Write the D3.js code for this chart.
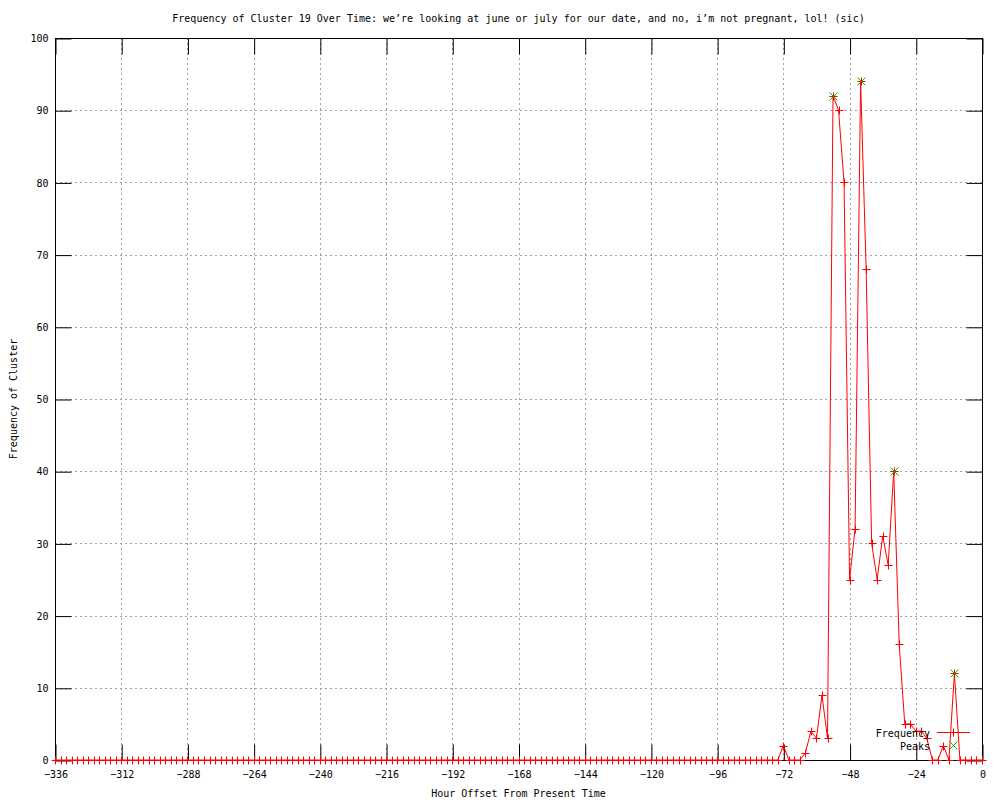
<!DOCTYPE html>
<html>
<head>
<meta charset="utf-8">
<script src="https://cdn.jsdelivr.net/npm/d3@7"></script>
<style>
  html, body { margin: 0; padding: 0; background: #fff; }
  svg { display: block; }
  text { font-family: "DejaVu Sans Mono", "Liberation Mono", monospace; font-size: 10px; fill: #000; }
</style>
</head>
<body>
<script>
// ---- data (hours in steps of 2, from -336 to 0) ----
const hours = d3.range(-336, 1, 2);
const frequency = [
  0,0,0,0,0,0,0,0,0,0,0,0,   // -336 .. -314
  0,0,0,0,0,0,0,0,0,0,0,0,   // -312 .. -290
  0,0,0,0,0,0,0,0,0,0,0,0,   // -288 .. -266
  0,0,0,0,0,0,0,0,0,0,0,0,   // -264 .. -242
  0,0,0,0,0,0,0,0,0,0,0,0,   // -240 .. -218
  0,0,0,0,0,0,0,0,0,0,0,0,   // -216 .. -194
  0,0,0,0,0,0,0,0,0,0,0,0,   // -192 .. -170
  0,0,0,0,0,0,0,0,0,0,0,0,   // -168 .. -146
  0,0,0,0,0,0,0,0,0,0,0,0,   // -144 .. -122
  0,0,0,0,0,0,0,0,0,0,0,0,   // -120 .. -98
  0,0,0,0,0,0,0,0,0,0,0,0,   // -96 .. -74
  2,0,0,0,1,4,3,9,3,92,90,80, // -72 .. -50
  25,32,94,68,30,25,31,27,40,16,5,5, // -48 .. -26
  4,4,3,0,0,2,0,12,0,0,0,0,  // -24 .. -2
  0                          // 0
];
const peakHours = [-54, -44, -32, -10];
const peakValues = [92, 94, 40, 12];
const xTicks = [-336,-312,-288,-264,-240,-216,-192,-168,-144,-120,-96,-72,-48,-24,0];
const yTicks = [0,10,20,30,40,50,60,70,80,90,100];
const title = "Frequency of Cluster 19 Over Time: we\u2019re looking at june or july for our date, and no, i\u2019m not pregnant, lol! (sic)";
const xLabel = "Hour Offset From Present Time";
const yLabel = "Frequency of Cluster";
const seriesNames = ["Frequency", "Peaks"];

// ---- layout ----
const W = 1000, H = 800;
const L = 55, R = 982, T = 38, B = 760;
const red = "#ff0000", green = "#00c000", grid = "#a0a0a0";

const svg = d3.select("body").append("svg").attr("width", W).attr("height", H);

const x = d3.scaleLinear().domain([-336, 0]).range([L, R]);
const y = d3.scaleLinear().domain([0, 100]).range([B, T]);
const px = v => Math.round(x(v)) + 0.5;
const py = v => Math.round(y(v)) + 0.5;

// grid
const g = svg.append("g").attr("stroke", grid).attr("stroke-dasharray", "2,3").attr("stroke-width", 1);
xTicks.slice(1, -1).forEach(t => g.append("line").attr("x1", px(t)).attr("x2", px(t)).attr("y1", T).attr("y2", B));
yTicks.slice(1, -1).forEach(t => g.append("line").attr("y1", py(t)).attr("y2", py(t)).attr("x1", L).attr("x2", R));

// axes using d3 axis generators (ticks inward, mirrored)
const tickLen = 16;
function styleAxis(sel) {
  sel.select(".domain").remove();
  sel.selectAll(".tick line").attr("stroke", "#000");
  sel.selectAll(".tick text").attr("fill", "#000").style("font-family", '"DejaVu Sans Mono", monospace').style("font-size", "10px");
}
const xAxisB = d3.axisBottom(x).tickValues(xTicks).tickSizeInner(-tickLen).tickSizeOuter(0).tickPadding(10).tickFormat(d3.format("d"));
svg.append("g").attr("transform", `translate(0.5,${B + 0.5})`).call(xAxisB).call(styleAxis);
const xAxisT = d3.axisTop(x).tickValues(xTicks).tickSizeInner(-tickLen).tickSizeOuter(0).tickFormat("");
svg.append("g").attr("transform", `translate(0.5,${T + 0.5})`).call(xAxisT).call(styleAxis);
const yAxisL = d3.axisLeft(y).tickValues(yTicks).tickSizeInner(-tickLen).tickSizeOuter(0).tickPadding(7).tickFormat(d3.format("d"));
svg.append("g").attr("transform", `translate(${L + 0.5},0.5)`).call(yAxisL).call(styleAxis);
const yAxisR = d3.axisRight(y).tickValues(yTicks).tickSizeInner(-tickLen).tickSizeOuter(0).tickFormat("");
svg.append("g").attr("transform", `translate(${R + 0.5},0.5)`).call(yAxisR).call(styleAxis);

// border
svg.append("rect").attr("x", L + 0.5).attr("y", T + 0.5).attr("width", R - L).attr("height", B - T)
  .attr("fill", "none").attr("stroke", "#000").attr("stroke-width", 1);

// line
const data = hours.map((h, i) => ({h, v: frequency[i]}));
const line = d3.line().x(d => x(d.h)).y(d => y(d.v));
svg.append("path").datum(data).attr("d", line).attr("fill", "none").attr("stroke", red).attr("stroke-width", 1);

// markers
const ms = 4;
function plus(sel, cx, cy, color) {
  sel.append("path").attr("d", `M${cx - ms},${cy}H${cx + ms}M${cx},${cy - ms}V${cy + ms}`)
    .attr("stroke", color).attr("stroke-width", 1).attr("fill", "none");
}
function cross(sel, cx, cy, color) {
  sel.append("path").attr("d", `M${cx - ms},${cy - ms}L${cx + ms},${cy + ms}M${cx - ms},${cy + ms}L${cx + ms},${cy - ms}`)
    .attr("stroke", color).attr("stroke-width", 1).attr("fill", "none");
}
const mk = svg.append("g");
data.forEach(d => plus(mk, px(d.h), py(d.v), red));
peakHours.forEach((h, i) => cross(mk, px(h), py(peakValues[i]), green));

// title & labels
svg.append("text").attr("x", (L + R) / 2).attr("y", 22).attr("text-anchor", "middle").text(title);
svg.append("text").attr("x", (L + R) / 2).attr("y", 797).attr("text-anchor", "middle").text(xLabel);
svg.append("text").attr("transform", `translate(17,${(T + B) / 2}) rotate(-90)`).attr("text-anchor", "middle").text(yLabel);

// legend
const lg = svg.append("g");
lg.append("text").attr("x", 930).attr("y", 733).attr("dy", "0.35em").attr("text-anchor", "end").text(seriesNames[0]);
lg.append("line").attr("x1", 937).attr("x2", 970).attr("y1", 732.5).attr("y2", 732.5).attr("stroke", red);
plus(lg, 953.5, 732.5, red);
lg.append("text").attr("x", 930).attr("y", 746).attr("dy", "0.35em").attr("text-anchor", "end").text(seriesNames[1]);
cross(lg, 953.5, 745.5, green);
</script>
</body>
</html>
